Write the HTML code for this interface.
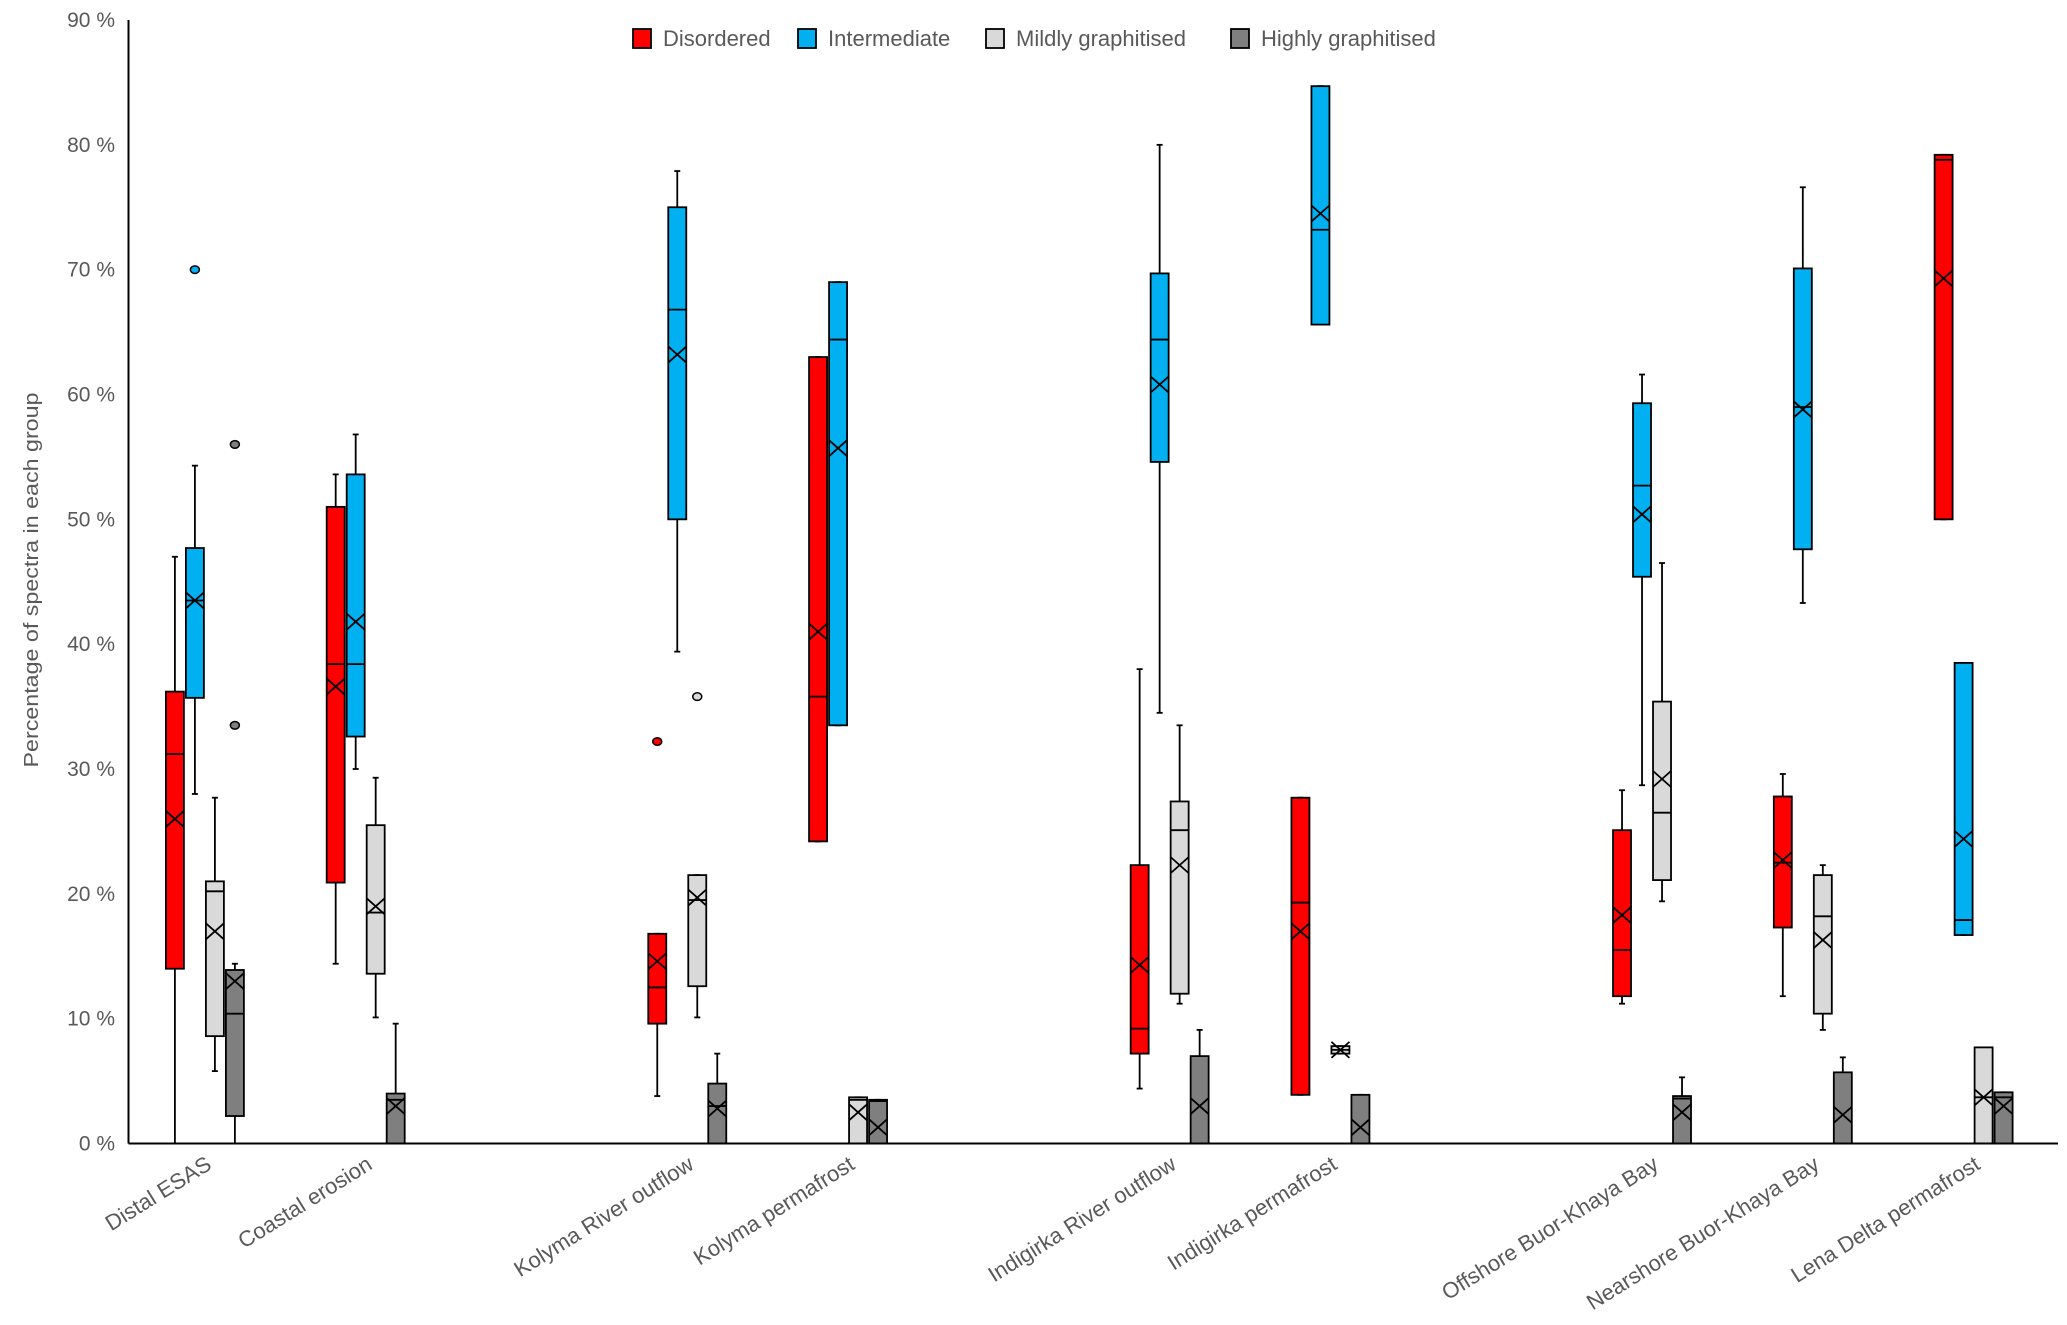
<!DOCTYPE html>
<html><head><meta charset="utf-8"><style>
html,body{margin:0;padding:0;background:#fff;}
svg{display:block;font-family:"Liberation Sans",sans-serif;}
</style></head><body>
<svg id="chart" width="2067" height="1325" viewBox="0 0 2067 1325" xmlns="http://www.w3.org/2000/svg"></svg>
<script>
const categories = ["Distal ESAS","Coastal erosion","","Kolyma River outflow","Kolyma permafrost","","Indigirka River outflow","Indigirka permafrost","","Offshore Buor-Khaya Bay","Nearshore Buor-Khaya Bay","Lena Delta permafrost"];
const seriesNames = ["Disordered","Intermediate","Mildly graphitised","Highly graphitised"];
const seriesColors = ["#ff0000","#00b0f0","#d9d9d9","#7f7f7f"];
const yTicks = [0,10,20,30,40,50,60,70,80,90];
// [lo, q1, median, q3, hi, mean] per category (null for empty slots)
const disordered = [[0,14,31.2,36.2,47,26],[14.4,20.9,38.4,51,53.6,36.6],null,[3.8,9.6,12.5,16.8,16.8,14.6],[24.2,24.2,35.8,63,63,41],null,[4.4,7.2,9.2,22.3,38,14.3],[3.9,3.9,19.3,27.7,27.7,17],null,[11.2,11.8,15.5,25.1,28.3,18.3],[11.8,17.3,22.5,27.8,29.6,22.7],[50,50,78.8,79.2,79.2,69.3]];
const intermediate = [[28,35.7,43.5,47.7,54.3,43.5],[30,32.6,38.4,53.6,56.8,41.8],null,[39.4,50,66.8,75,77.9,63.2],[33.5,33.5,64.4,69,69,55.7],null,[34.5,54.6,64.4,69.7,80,60.8],[65.6,65.6,73.2,84.7,84.7,74.5],null,[28.7,45.4,52.7,59.3,61.6,50.4],[43.3,47.6,59,70.1,76.6,58.8],[16.7,16.7,17.9,38.5,38.5,24.4]];
const mildly = [[5.8,8.6,20.2,21,27.7,17],[10.1,13.6,18.5,25.5,29.3,19],null,[10.1,12.6,19.5,21.5,21.5,19.7],[0,0,3.5,3.7,3.7,2.5],null,[11.2,12,25.1,27.4,33.5,22.3],[7.2,7.2,7.5,7.8,7.8,7.5],null,[19.4,21.1,26.5,35.4,46.5,29.2],[9.1,10.4,18.2,21.5,22.3,16.3],[0,0,3.7,7.7,7.7,3.7]];
const highly = [[0,2.2,10.4,13.9,14.4,13],[0,0,3.5,4,9.6,3],null,[0,0,3,4.8,7.2,2.8],[0,0,3.4,3.5,3.5,1.3],null,[0,0,0,7,9.1,3],[0,0,0,3.9,3.9,1.3],null,[0,0,3.6,3.8,5.3,2.5],[0,0,0,5.7,6.9,2.3],[0,0,3.7,4.1,4.1,3]];
const outliers = [[0,1,70],[0,3,56],[0,3,33.5],[3,0,32.2],[3,2,35.8]]; // [category, series, value]

const NS="http://www.w3.org/2000/svg";
const svg=document.getElementById('chart');
const X0=128.5, X1=2058, Y0=1143.5, YTOP=20;
const slotW=(X1-X0)/categories.length;
function yScale(v){return Y0-v*(Y0-YTOP)/90;}
function xCenter(i){return X0-4+slotW*(i+0.5);}
const offsets=[-30,-10,10,30], BW=18;
function mk(tag,attrs,parent){const e=document.createElementNS(NS,tag);for(const k in attrs)e.setAttribute(k,attrs[k]);(parent||svg).appendChild(e);return e;}

yTicks.forEach(t=>{
  const tx=mk('text',{x:115,y:yScale(t)+7,'text-anchor':'end','font-size':21,fill:'#595959'});
  tx.textContent=t+' %';
  
  
});
const yt=mk('text',{x:0,y:0,transform:'translate(38,580) rotate(-90)','text-anchor':'middle','font-size':20,fill:'#595959',textLength:375,lengthAdjust:'spacingAndGlyphs'});
yt.textContent='Percentage of spectra in each group';



const allSeries=[disordered,intermediate,mildly,highly];
allSeries.forEach((ser,s)=>{
  ser.forEach((d,i)=>{
    if(!d) return;
    const g=mk('g',{});
    
    
    const cx=xCenter(i)+offsets[s];
    const [lo,q1,med,q3,hi,mean]=d;
    const st={stroke:'#000','stroke-width':1.8,fill:'none'};
    mk('line',Object.assign({x1:cx,x2:cx,y1:yScale(hi),y2:yScale(q3)},st),g);
    mk('line',Object.assign({x1:cx,x2:cx,y1:yScale(q1),y2:yScale(lo)},st),g);
    mk('line',Object.assign({x1:cx-3,x2:cx+3,y1:yScale(hi),y2:yScale(hi)},st),g);
    mk('line',Object.assign({x1:cx-3,x2:cx+3,y1:yScale(lo),y2:yScale(lo)},st),g);
    mk('rect',{x:cx-BW/2,y:yScale(q3),width:BW,height:Math.max(yScale(q1)-yScale(q3),1),fill:seriesColors[s],stroke:'#000','stroke-width':1.8},g);
    mk('line',Object.assign({x1:cx-BW/2,x2:cx+BW/2,y1:yScale(med),y2:yScale(med)},st),g);
    const my=yScale(mean);
    mk('line',Object.assign({x1:cx-BW/2,x2:cx+BW/2,y1:my-8,y2:my+8},st),g);
    mk('line',Object.assign({x1:cx-BW/2,x2:cx+BW/2,y1:my+8,y2:my-8},st),g);
  });
});
outliers.forEach(o=>{
  const e=mk('ellipse',{cx:xCenter(o[0])+offsets[o[1]],cy:yScale(o[2]),rx:4.5,ry:3.8,fill:seriesColors[o[1]],stroke:'#000','stroke-width':1.5});
  
  
});

const ya=mk('line',{x1:X0,x2:X0,y1:YTOP,y2:Y0,stroke:'#000','stroke-width':2});


const xa=mk('line',{x1:X0,x2:X1,y1:Y0,y2:Y0,stroke:'#000','stroke-width':2});



categories.forEach((c,i)=>{
  if(!c) return;
  const x=xCenter(i)+8, y=1168;
  const t=mk('text',{x:x,y:y,transform:`rotate(-32 ${x} ${y})`,'text-anchor':'end','font-size':22,fill:'#595959'});
  t.textContent=c;
  
  
});

const legX=[633,798,986,1231];
seriesNames.forEach((n,s)=>{
  const g=mk('g',{});
  
  
  mk('rect',{x:legX[s],y:29,width:18,height:19,fill:seriesColors[s],stroke:'#000','stroke-width':1.8},g);
  const t=mk('text',{x:legX[s]+30,y:46,'font-size':22,fill:'#595959'},g);
  t.textContent=n;
});
</script>
</body></html>
